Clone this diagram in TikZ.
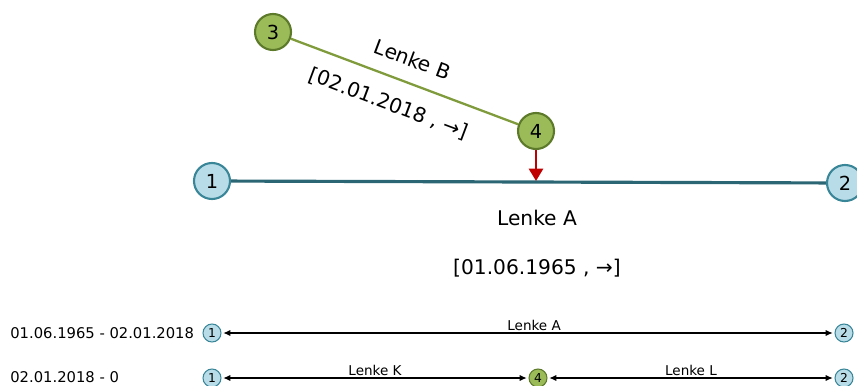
\documentclass[tikz,border=0pt]{standalone}
\usepackage{fontspec}
\setmainfont{DejaVu Sans}
\usetikzlibrary{arrows.meta,positioning}
\definecolor{nodeblue}{HTML}{B9DDE8}
\definecolor{blueedge}{HTML}{3A8699}
\definecolor{nodegreen}{HTML}{9BBB59}
\definecolor{greenedge}{HTML}{5C7A2A}
\definecolor{linkteal}{HTML}{2B6675}
\definecolor{linkolive}{HTML}{7F9B3C}
\definecolor{hitred}{HTML}{C00000}

\begin{document}
\begin{tikzpicture}[x=0.02cm,y=-0.02cm,
    bignode/.style={circle,line width=1.2pt,minimum size=0.72cm,inner sep=0pt,font=\fontsize{11}{11}\selectfont},
    smallnode/.style={circle,line width=0.6pt,minimum size=0.36cm,inner sep=0pt,font=\fontsize{7}{7}\selectfont},
    bluenode/.style={draw=blueedge,fill=nodeblue},
    greennode/.style={draw=greenedge,fill=nodegreen},
    biglabel/.style={text=black,font=\fontsize{11.5}{12}\selectfont},
    smalllabel/.style={font=\fontsize{7.7}{8}\selectfont,inner sep=1pt},
    rowlabel/.style={font=\fontsize{8.4}{9}\selectfont,anchor=west,inner sep=0pt},
    link/.style={<->,>={Latex[length=4pt,width=3.5pt]},line width=0.6pt,shorten <=1pt,shorten >=1pt}]
  \useasboundingbox (0,0) rectangle (857,385);

  % main view
  \begin{scope}[every node/.style={bignode}]
    \node[bluenode] (n1) at (212,181) {1};
    \node[bluenode] (n2) at (845,183) {2};
    \node[greennode] (n3) at (273,32) {3};
    \node[greennode] (n4) at (536,131) {4};
  \end{scope}
  \coordinate (hit) at (536,181);

  \draw[linkteal,line width=1.8pt] (n1) -- (n2);
  \draw[linkolive,line width=1.3pt] (n3) -- node[biglabel,sloped,above=5pt] {Lenke B}
    node[biglabel,sloped,below=6pt,pos=0.47] {[02.01.2018 , →]} (n4);
  \draw[hitred,line width=1.3pt,-{Triangle[length=7pt,width=8pt]}] (n4) -- (hit);

  \node[biglabel] (nameA) at (537,218) {Lenke A};
  \node[biglabel] (dateA) at (537,268) {[01.06.1965 , →]};

  % timeline
  \node[rowlabel] (row1) at (10,333) {01.06.1965 - 02.01.2018};
  \node[rowlabel] (row2) at (10,377) {02.01.2018 - 0};
  \begin{scope}[every node/.style={smallnode}]
    \node[bluenode] (a1) at (212,333) {1};
    \node[bluenode] (a2) at (844,333) {2};
    \node[bluenode] (b1) at (212,378) {1};
    \node[greennode] (b4) at (538,378) {4};
    \node[bluenode] (b2) at (844,378) {2};
  \end{scope}

  \draw[link] (a1) -- node[smalllabel,above,pos=0.51] {Lenke A} (a2);
  \draw[link] (b1) -- node[smalllabel,above] {Lenke K} (b4);
  \draw[link] (b4) -- node[smalllabel,above] {Lenke L} (b2);
\end{tikzpicture}
\end{document}
